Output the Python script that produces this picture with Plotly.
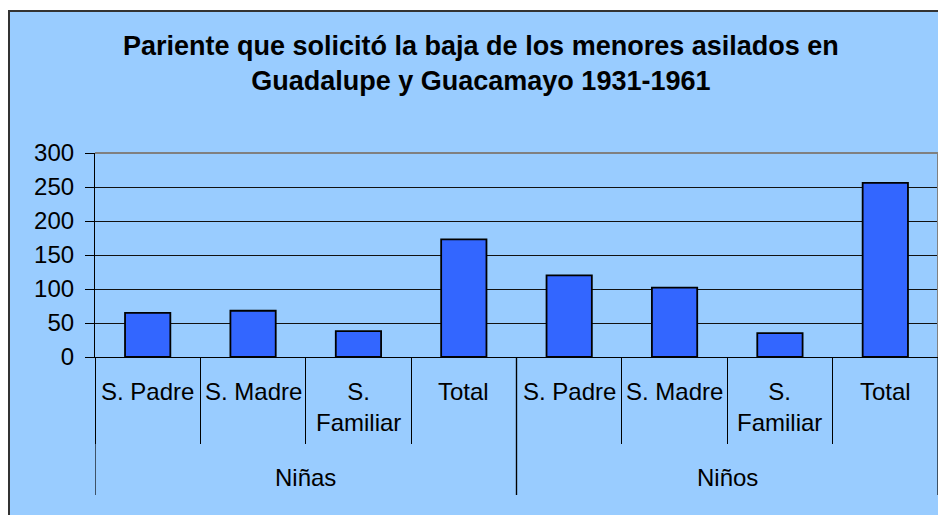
import plotly.graph_objects as go

groups = ["Niñas", "Niñas", "Niñas", "Niñas", "Niños", "Niños", "Niños", "Niños"]
parientes = ["S. Padre", "S. Madre", "S.<br>Familiar", "Total",
             "S. Padre", "S. Madre", "S.<br>Familiar", "Total"]
valores = [65, 68, 38, 173, 120, 102, 35, 256]
y_ticks = [0, 50, 100, 150, 200, 250, 300]
titulo = "<b>Pariente que solicitó la baja de los menores asilados en<br>Guadalupe y Guacamayo 1931-1961</b>"

BG = "#99CCFF"
BAR = "#3366FF"
FONT = "Liberation Sans, Arial, sans-serif"

n = len(valores)
xpos = list(range(n))

fig = go.Figure()
fig.add_trace(go.Bar(
    x=xpos,
    y=valores,
    marker=dict(color=BAR, line=dict(color="#000000", width=1.8)),
    width=0.43,
    hoverinfo="y",
))

W, H = 938, 507
L, R, T, B = 87, 8, 145, 158
pw, ph = W - L - R, H - T - B

# chart-area background with border
fig.add_shape(type="rect", xref="paper", yref="paper", layer="below",
              x0=(1 - L) / pw, x1=(W + 30 - L) / pw,
              y0=(H - B - (H + 30)) / ph, y1=(H - B - 3) / ph,
              fillcolor=BG, line=dict(color="#333333", width=2))

# grey top / right border of plot area
fig.add_shape(type="line", xref="paper", yref="paper", x0=0, x1=1, y0=1, y1=1,
              line=dict(color="#808080", width=2), layer="above")
fig.add_shape(type="line", xref="paper", yref="paper", x0=1, x1=1, y0=0, y1=1,
              line=dict(color="#808080", width=2), layer="above")

# title
fig.add_annotation(x=(473 - L) / pw, y=1, xref="paper", yref="paper", text=titulo,
                   showarrow=False, xanchor="center", yanchor="top", yshift=T - 21,
                   font=dict(family=FONT, size=27, color="#000000"))

# category labels
for i, lab in enumerate(parientes):
    fig.add_annotation(x=xpos[i], y=0, xref="x", yref="paper", text=lab,
                       showarrow=False, yanchor="top", yshift=-19,
                       font=dict(family=FONT, size=24, color="#000000"))

# group labels and long dividers
uniq = []
for g in groups:
    if g not in uniq:
        uniq.append(g)
for g in uniq:
    idx = [i for i, gg in enumerate(groups) if gg == g]
    center = (xpos[idx[0]] + xpos[idx[-1]]) / 2
    fig.add_annotation(x=center, y=0, xref="x", yref="paper", text=g,
                       showarrow=False, yanchor="middle", yshift=-120,
                       font=dict(family=FONT, size=24, color="#000000"))
    for xb in (xpos[idx[0]] - 0.5, xpos[idx[-1]] + 0.5):
        fig.add_shape(type="line", xref="x", yref="paper", x0=xb, x1=xb,
                      y0=0, y1=-138 / ph, line=dict(color="#000000", width=1.2))

fig.update_layout(
    width=W, height=H,
    margin=dict(l=L, r=R, t=T, b=B),
    paper_bgcolor="white",
    plot_bgcolor=BG,
    font=dict(family=FONT, size=24, color="#000000"),
    showlegend=False,
)
fig.update_xaxes(
    range=[-0.5, n - 0.5],
    tickvals=[i - 0.5 for i in range(n + 1)],
    ticktext=[""] * (n + 1),
    ticks="outside", ticklen=86, tickcolor="#000000", tickwidth=1,
    showline=True, linecolor="#000000", linewidth=1.2,
    showgrid=False, zeroline=False,
)
fig.update_yaxes(
    range=[0, 300], tickvals=y_ticks,
    showline=True, linecolor="#000000", linewidth=1.2,
    ticks="outside", ticklen=9, tickcolor="#000000",
    ticklabelstandoff=6,
    showgrid=True, gridcolor="#111111", gridwidth=1,
    tickfont=dict(family=FONT, size=24, color="#000000"),
    zeroline=False,
)

fig.write_html("out.html")
